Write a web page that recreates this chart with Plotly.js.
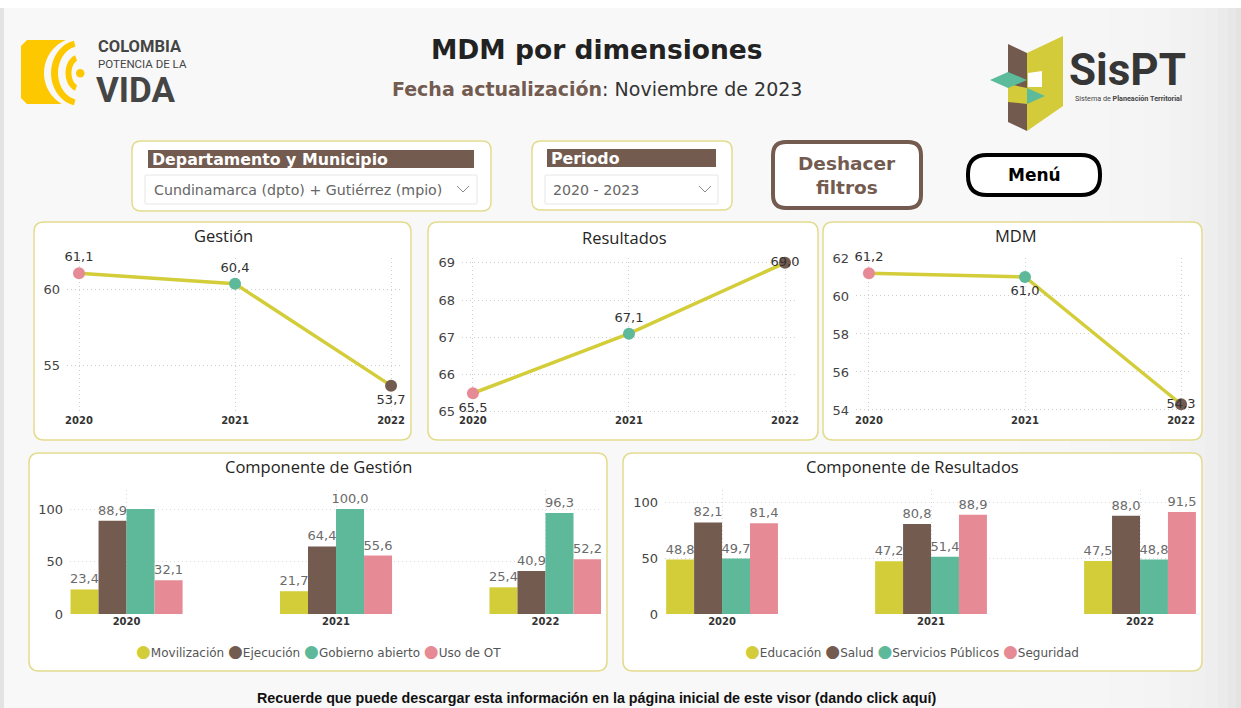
<!DOCTYPE html>
<html>
<head>
<meta charset="utf-8">
<script src="https://cdn.plot.ly/plotly-3.0.1.min.js"></script>
<style>html,body{margin:0;padding:0;background:#fff;}#chart{width:1241px;height:708px;}</style>
</head>
<body>
<div id="chart"></div>
<script>
// ---------------- DATA ----------------
const years = ['2020', '2021', '2022'];
const gestion = [61.1, 60.4, 53.7];
const resultados = [65.5, 67.1, 69.0];
const mdm = [61.2, 61.0, 54.3];

const compGestionNames = ['Movilización', 'Ejecución', 'Gobierno abierto', 'Uso de OT'];
const movilizacion = [23.4, 21.7, 25.4];
const ejecucion = [88.9, 64.4, 40.9];
const gobiernoAbierto = [100.0, 100.0, 96.3];
const usoOT = [32.1, 55.6, 52.2];

const compResultadosNames = ['Educación', 'Salud', 'Servicios Públicos', 'Seguridad'];
const educacion = [48.8, 47.2, 47.5];
const salud = [82.1, 80.8, 88.0];
const serviciosPublicos = [49.7, 51.4, 48.8];
const seguridad = [81.4, 88.9, 91.5];

const gestionTicks = [55, 60];
const resultadosTicks = [65, 66, 67, 68, 69];
const mdmTicks = [54, 56, 58, 60, 62];
const barTicks = [0, 50, 100];

// ---------------- STYLE ----------------
const W = 1241, H = 708;
const YEL = '#d4cd3a', BRN = '#735b50', TEAL = '#5db99a', PINK = '#e68b95';
const seriesColors = [YEL, BRN, TEAL, PINK];
const yearColors = [PINK, TEAL, BRN];
const BOX = '#e3dc8e';
const X = v => v / W, Y = v => 1 - v / H;
const fmt = v => v.toFixed(1).replace('.', ',');

function rr(x0, y0, x1, y1, r) {
  return `M${X(x0 + r)},${Y(y0)} L${X(x1 - r)},${Y(y0)} Q${X(x1)},${Y(y0)} ${X(x1)},${Y(y0 + r)} ` +
    `L${X(x1)},${Y(y1 - r)} Q${X(x1)},${Y(y1)} ${X(x1 - r)},${Y(y1)} L${X(x0 + r)},${Y(y1)} ` +
    `Q${X(x0)},${Y(y1)} ${X(x0)},${Y(y1 - r)} L${X(x0)},${Y(y0 + r)} Q${X(x0)},${Y(y0)} ${X(x0 + r)},${Y(y0)} Z`;
}
function poly(pts) {
  return 'M' + pts.map(p => `${X(p[0])},${Y(p[1])}`).join(' L') + ' Z';
}
function pathShape(path, fill, line, lw) {
  return {type: 'path', xref: 'paper', yref: 'paper', path: path, fillcolor: fill || 'rgba(0,0,0,0)',
    line: {color: line || 'rgba(0,0,0,0)', width: lw || 0}, layer: 'below'};
}
function rectShape(x0, y0, x1, y1, fill, opacity) {
  return {type: 'rect', xref: 'paper', yref: 'paper', x0: X(x0), x1: X(x1), y0: Y(y1), y1: Y(y0),
    fillcolor: fill, opacity: opacity == null ? 1 : opacity, line: {width: 0}, layer: 'below'};
}
function ellArc(cx, cy, rxo, ryo, rxi, ryi, t0, t1) {
  const pts = [], n = 24;
  for (let i = 0; i <= n; i++) { const t = (t0 + (t1 - t0) * i / n) * Math.PI / 180; pts.push([cx - rxo * Math.cos(t), cy + ryo * Math.sin(t)]); }
  for (let i = n; i >= 0; i--) { const t = (t0 + (t1 - t0) * i / n) * Math.PI / 180; pts.push([cx - rxi * Math.cos(t), cy + ryi * Math.sin(t)]); }
  return poly(pts);
}

const shapes = [];
// background (soft gradient towards the right edge)
shapes.push(rectShape(0, 8, W, H, '#e3e3e3'));
[1236, 1228, 1218, 1205, 1190, 1170, 1145, 1110, 1070, 1020].forEach(r => shapes.push(rectShape(4, 8, r, H, '#ffffff', 0.16)));

// Colombia logo
(function () {
  const cx = 80, cy = 73, LY = '#fec800';
  const pts = [[27, 40]];
  for (let i = 0; i <= 30; i++) {
    const yy = 40 + 64 * i / 30; const dy = yy - cy; const dx = Math.sqrt(Math.max(0, 36 * 36 - dy * dy));
    pts.push([cx - dx, yy]);
  }
  pts.push([27, 104], [21, 98], [21, 46]);
  shapes.push(pathShape(poly(pts), LY));
  shapes.push(pathShape(ellArc(cx, cy, 29, 33, 22, 27, -78, 78), LY));
  shapes.push(pathShape(ellArc(cx, cy, 14.5, 19, 8.5, 13, -70, 70), LY));
  shapes.push({type: 'circle', xref: 'paper', yref: 'paper', x0: X(76), x1: X(84.5), y0: Y(77.5), y1: Y(69), fillcolor: LY, line: {width: 0}, layer: 'below'});
})();

// SisPT logo
shapes.push(pathShape(poly([[1008, 44], [1027, 53], [1027, 131], [1008, 122]]), '#725a4e'));
shapes.push(pathShape(poly([[1008, 84], [1027, 88], [1027, 104], [1008, 102]]), '#d3cb3a'));
shapes.push(pathShape(poly([[1027, 53], [1063, 36], [1063, 106], [1027, 131]]), '#d3cb3a'));
shapes.push(pathShape(poly([[1028, 73], [1042, 71], [1042, 87], [1028, 87]]), '#ffffff'));
shapes.push(pathShape(poly([[990, 80], [1008, 72], [1027, 80], [1008, 88]]), '#5cbb9b'));
shapes.push(pathShape(poly([[1027, 88], [1045, 96], [1027, 104]]), '#5cbb9b'));

// filter boxes
shapes.push(pathShape(rr(132, 141, 491, 211, 9), '#ffffff', BOX, 1.5));
shapes.push(rectShape(148, 150, 474, 168, BRN));
shapes.push(pathShape(rr(145, 175, 477, 204, 1), '#ffffff', '#e6e6e6', 1));
shapes.push(pathShape(`M${X(457)},${Y(186)} L${X(463)},${Y(192)} L${X(469)},${Y(186)}`, null, '#8a8a8a', 1));
shapes.push(pathShape(rr(532, 141, 732, 210, 9), '#ffffff', BOX, 1.5));
shapes.push(rectShape(547, 149, 716, 167, BRN));
shapes.push(pathShape(rr(545, 175, 718, 204, 1), '#ffffff', '#e6e6e6', 1));
shapes.push(pathShape(`M${X(699)},${Y(186)} L${X(705)},${Y(192)} L${X(711)},${Y(186)}`, null, '#8a8a8a', 1));
// buttons
shapes.push(pathShape(rr(773, 142, 921, 208, 13), '#ffffff', BRN, 4));
shapes.push(pathShape(rr(968, 155, 1100, 195, 19), '#ffffff', '#000000', 4));

// chart boxes
shapes.push(pathShape(rr(34, 222, 411, 440, 10), '#ffffff', BOX, 1.5));
shapes.push(pathShape(rr(428, 222, 818, 440, 10), '#ffffff', BOX, 1.5));
shapes.push(pathShape(rr(823, 222, 1202, 440, 10), '#ffffff', BOX, 1.5));
shapes.push(pathShape(rr(29, 453, 607, 671, 10), '#ffffff', BOX, 1.5));
shapes.push(pathShape(rr(623, 453, 1202, 671, 10), '#ffffff', BOX, 1.5));

// ---------------- TRACES ----------------
const lineFont = {family: 'DejaVu Sans', size: 13, color: '#333333'};
function lineTrace(vals, ax, positions) {
  return {
    type: 'scatter', mode: 'lines+markers+text', x: years, y: vals, xaxis: 'x' + ax, yaxis: 'y' + ax,
    line: {color: YEL, width: 3.5}, marker: {size: 12, color: yearColors},
    text: vals.map(fmt), textposition: positions, textfont: lineFont, cliponaxis: false, hoverinfo: 'skip'
  };
}
const traces = [
  lineTrace(gestion, '', ['top center', 'top center', 'bottom center']),
  lineTrace(resultados, '2', ['bottom center', 'top center', 'middle center']),
  lineTrace(mdm, '3', ['top center', 'bottom center', 'middle center'])
];
const barFont = {family: 'DejaVu Sans', size: 13, color: '#6b6b6b'};
function barTrace(name, vals, color, ax, hide) {
  return {
    type: 'bar', name: name, x: years, y: vals, xaxis: 'x' + ax, yaxis: 'y' + ax,
    marker: {color: color, line: {width: 0}},
    text: vals.map((v, i) => (hide && hide.indexOf(i) >= 0) ? '' : fmt(v)),
    textposition: 'outside', textfont: barFont, constraintext: 'none', cliponaxis: false, hoverinfo: 'skip'
  };
}
const gSeries = [movilizacion, ejecucion, gobiernoAbierto, usoOT];
const rSeries = [educacion, salud, serviciosPublicos, seguridad];
gSeries.forEach((s, k) => traces.push(barTrace(compGestionNames[k], s, seriesColors[k], '4', k === 2 ? [0] : null)));
rSeries.forEach((s, k) => traces.push(barTrace(compResultadosNames[k], s, seriesColors[k], '5', null)));

// ---------------- AXES ----------------
const gridStyle = {showgrid: true, gridcolor: '#cfcfcf', griddash: '1px,3px', gridwidth: 1, zeroline: false, showline: false, ticks: ''};
function xAx(px0, px1, range, anchor) {
  return Object.assign({}, gridStyle, {type: 'category', domain: [X(px0), X(px1)], range: range, anchor: anchor,
    tickfont: {family: 'DejaVu Sans', size: 10, color: '#333333', weight: 'bold'}, fixedrange: true});
}
function yAx(py0, py1, range, ticks, anchor) {
  return Object.assign({}, gridStyle, {domain: [Y(py1), Y(py0)], range: range, tickvals: ticks, anchor: anchor,
    tickfont: {family: 'DejaVu Sans', size: 13, color: '#444444'}, ticklabelstandoff: 6, fixedrange: true});
}
const barGrid = {gridcolor: '#dadada'};

// ---------------- ANNOTATIONS ----------------
const ann = [];
function txt(x, y, text, size, color, opts) {
  ann.push(Object.assign({xref: 'paper', yref: 'paper', x: X(x), y: Y(y), text: text, showarrow: false,
    xanchor: 'center', yanchor: 'middle', font: {family: 'DejaVu Sans', size: size, color: color}}, opts || {}));
}
txt(597, 50, '<b>MDM por dimensiones</b>', 26.5, '#222222');
txt(597, 89, '<b><span style="color:' + BRN + '">Fecha actualización</span></b>: Noviembre de 2023', 19, '#333333');
txt(96, 47, '<b>COLOMBIA</b>', 16.5, '#444444', {xanchor: 'left', font: {family: 'Roboto', size: 16.5, color: '#454545'}});
txt(96, 64, 'POTENCIA DE LA', 11.5, '#444444', {xanchor: 'left', font: {family: 'Roboto', size: 11.5, color: '#454545'}});
txt(94, 91, '<b>VIDA</b>', 35, '#444444', {xanchor: 'left', font: {family: 'Roboto', size: 35, color: '#454545'}});
txt(1127, 70, '<b>SisPT</b>', 44, '#333333', {font: {family: 'Roboto', size: 44, color: '#363636'}});
txt(1128, 99, 'Sistema de <b>Planeación Territorial</b>', 7.2, '#444444', {font: {family: 'Roboto', size: 7.2, color: '#444444'}});

txt(150, 159, '<b>Departamento y Municipio</b>', 15.8, '#ffffff', {xanchor: 'left'});
txt(152, 190, 'Cundinamarca (dpto) + Gutiérrez (mpio)', 14.2, '#666666', {xanchor: 'left'});
txt(549, 158, '<b>Periodo</b>', 15.8, '#ffffff', {xanchor: 'left'});
txt(551, 190, '2020 - 2023', 14.2, '#666666', {xanchor: 'left'});
txt(847, 164, '<b>Deshacer</b>', 18.5, BRN);
txt(847, 187, '<b>filtros</b>', 18.5, BRN);
txt(1034, 175, '<b>Menú</b>', 17, '#000000');

const titleFont = {family: 'Open Sans', size: 16.5, color: '#252423'};
txt(223, 236, 'Gestión', 16.5, '#252423', {font: titleFont});
txt(624, 237, 'Resultados', 16.5, '#252423', {font: titleFont});
txt(1016, 236, 'MDM', 16.5, '#252423', {font: titleFont});
txt(318, 467, 'Componente de Gestión', 16.5, '#252423', {font: titleFont});
txt(912, 467, 'Componente de Resultados', 16.5, '#252423', {font: titleFont});

function legendText(names) {
  return names.map((n, k) => '<span style="color:' + seriesColors[k] + ';font-size:17px">●</span>' + n).join(' ');
}
txt(318, 651, legendText(compGestionNames), 12, '#555555');
txt(912, 651, legendText(compResultadosNames), 12, '#555555');

txt(597, 698, '<b>Recuerde que puede descargar esta información en la página inicial de este visor (dando click aquí)</b>', 14.3, '#111111',
  {font: {family: 'Liberation Sans', size: 14.3, color: '#111111'}});

// ---------------- LAYOUT ----------------
const layout = {
  width: W, height: H, margin: {l: 0, r: 0, t: 0, b: 0},
  paper_bgcolor: '#ffffff', plot_bgcolor: 'rgba(0,0,0,0)',
  showlegend: false, separators: ',.', barmode: 'group', bargap: 0.465, bargroupgap: 0,
  font: {family: 'DejaVu Sans'},
  xaxis: xAx(67, 402, [-0.077, 2.07], 'y'),
  yaxis: yAx(258, 413, [51.9, 62.1], gestionTicks, 'x'),
  xaxis2: xAx(462, 795, [-0.07, 2.064], 'y2'),
  yaxis2: yAx(258, 413, [64.97, 69.13], resultadosTicks, 'x2'),
  xaxis3: xAx(856, 1192, [-0.083, 2.07], 'y3'),
  yaxis3: yAx(258, 413, [53.84, 62.0], mdmTicks, 'x3'),
  xaxis4: Object.assign(xAx(70, 601, [-0.27, 2.265], 'y4'), barGrid),
  yaxis4: Object.assign(yAx(490, 614, [0, 118.1], barTicks, 'x4'), barGrid),
  xaxis5: Object.assign(xAx(665, 1196, [-0.273, 2.268], 'y5'), barGrid),
  yaxis5: Object.assign(yAx(490, 614, [0, 111.2], barTicks, 'x5'), barGrid),
  shapes: shapes, annotations: ann
};
Plotly.newPlot('chart', traces, layout, {displayModeBar: false, staticPlot: true});
</script>
</body>
</html>
